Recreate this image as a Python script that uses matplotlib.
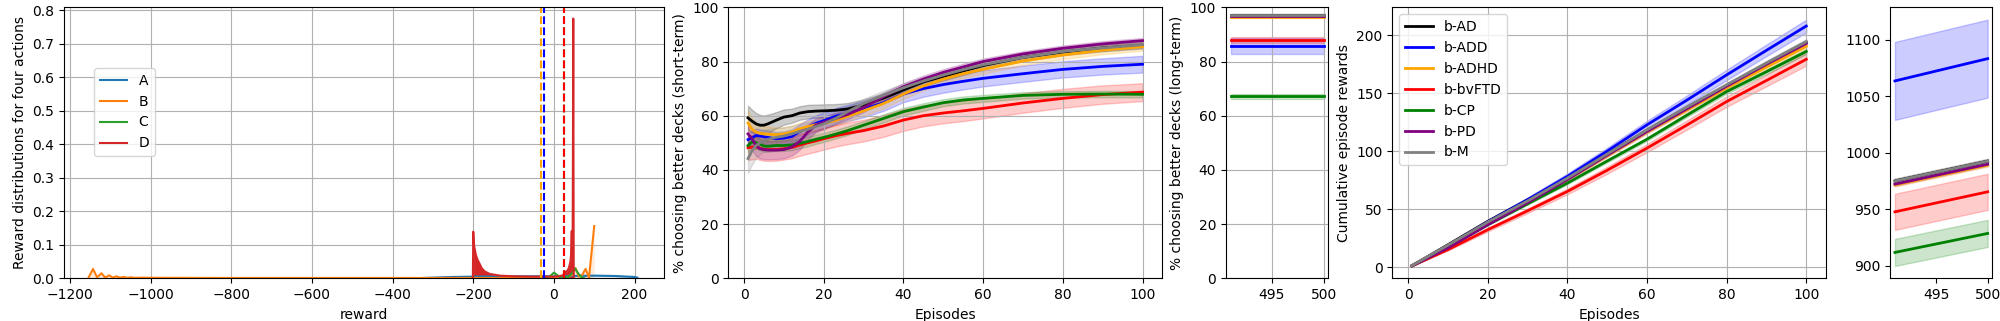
import numpy as np
import matplotlib
matplotlib.use("Agg")
import matplotlib.pyplot as plt

# ---------------- Panel 1: reward distributions ----------------
actions = ["A", "B", "C", "D"]
a_x = [-350, -300, -250, -200, -100, 0, 50, 100, 150, 200, 207]
a_y = [0.0, 0.002, 0.004, 0.005, 0.006, 0.006, 0.007, 0.008, 0.007, 0.004, 0.002]
b_x = [-1155, -1143, -1133, -1122, -1113, -1103, -1094, -1085, -1076, -1067, -1058,
       -1049, -1040, -1020, -1000, -800, -600, -400, -200, -100, -50, 0, 30, 45, 54,
       62, 70, 78.5, 87, 100]
b_y = [0.0, 0.028, 0.003, 0.015, 0.002, 0.009, 0.002, 0.006, 0.002, 0.004, 0.0015,
       0.003, 0.0015, 0.002, 0.0015, 0.001, 0.001, 0.001, 0.001, 0.001, 0.001, 0.001,
       0.002, 0.01, 0.03, 0.005, 0.01, 0.028, 0.002, 0.156]
c_x = [-30, -15, -8, 0, 8, 15, 25, 35, 45, 52, 60, 68, 75]
c_y = [0.0, 0.002, 0.008, 0.017, 0.01, 0.003, 0.002, 0.004, 0.015, 0.03, 0.015, 0.004, 0.0]
d_x = [-201, -200, -199, -197.5, -193.5, -190, -185, -179, -171, -159, -134, -100, -50,
       0, 10, 20, 25, 30, 35, 38, 41, 42.5, 43.5, 46.5, 47, 48, 49]
d_y = [0, 0.139, 0.11, 0.094, 0.07, 0.057, 0.045, 0.03, 0.02, 0.013, 0.008, 0.006, 0.005,
       0.005, 0.006, 0.008, 0.012, 0.02, 0.025, 0.035, 0.05, 0.07, 0.14, 0.14, 0.3, 0.775, 0]
mean_lines = {"orange": -32.5, "blue": -25, "green": 26, "red": 26}

# ---------------- Groups ----------------
groups = ["b-AD", "b-ADD", "b-ADHD", "b-bvFTD", "b-CP", "b-PD", "b-M"]
colors = ["black", "blue", "orange", "red", "green", "purple", "gray"]

# ---------------- Panel 2: short-term ----------------
st_x = [1, 2, 3, 4, 5, 6, 8, 10, 12, 14, 16, 18, 20, 23, 26, 30, 35, 40, 45, 50, 55, 60, 70, 80, 90, 100]
ad_st = [59.2, 58.0, 57.0, 56.5, 56.5, 57.0, 58.3, 59.5, 60.0, 61.0, 61.5, 61.7, 61.8, 62.0, 62.5, 64.0, 66.5, 69.5, 72.5, 74.5, 76.5, 78.5, 81.5, 83.5, 85.0, 86.0]
ad_st_sd = [4.5, 4.2, 4.0, 3.8, 3.6, 3.4, 3.0, 2.8, 2.6, 2.5, 2.5, 2.4, 2.4, 2.3, 2.2, 2.0, 1.8, 1.7, 1.6, 1.5, 1.5, 1.4, 1.3, 1.2, 1.2, 1.2]
add_st = [51.2, 51.8, 52.7, 52.5, 52.2, 52.0, 51.5, 51.7, 52.3, 54.2, 55.8, 57.2, 58.2, 59.8, 61.0, 62.4, 64.8, 68.0, 70.0, 71.5, 72.7, 73.8, 75.5, 77.1, 78.2, 79.0]
add_st_sd = [2.5, 2.5, 2.5, 2.5, 2.5, 2.5, 2.5, 2.5, 2.6, 2.7, 2.8, 2.9, 3.0, 3.0, 3.0, 3.0, 3.0, 3.0, 3.0, 3.0, 3.0, 3.0, 3.0, 3.0, 3.0, 3.1]
adhd_st = [57.3, 55.0, 54.0, 53.5, 53.3, 53.2, 53.0, 53.3, 54.0, 55.2, 56.0, 56.7, 57.2, 58.3, 59.8, 61.8, 64.5, 68.0, 71.0, 73.5, 75.5, 77.1, 80.2, 82.4, 84.2, 85.5]
adhd_st_sd = [4.5, 4.0, 3.6, 3.3, 3.0, 2.8, 2.6, 2.5, 2.4, 2.3, 2.2, 2.1, 2.0, 2.0, 1.9, 1.8, 1.8, 1.7, 1.7, 1.6, 1.6, 1.6, 1.5, 1.5, 1.5, 1.5]
ftd_st = [48.2, 48.4, 48.5, 48.0, 47.6, 47.5, 47.5, 47.8, 48.3, 49.2, 50.0, 50.7, 51.5, 52.6, 53.5, 54.5, 56.2, 58.4, 60.0, 61.0, 61.8, 62.7, 64.7, 66.4, 67.8, 68.7]
ftd_st_sd = [4.5, 4.5, 4.4, 4.3, 4.2, 4.2, 4.1, 4.0, 4.0, 4.0, 4.0, 4.0, 4.0, 4.0, 4.0, 4.0, 4.0, 4.0, 3.9, 3.8, 3.8, 3.7, 3.6, 3.5, 3.4, 3.3]
cp_st = [49.0, 50.3, 50.0, 49.5, 48.8, 48.7, 49.0, 49.0, 49.2, 49.8, 50.5, 51.3, 52.0, 53.2, 54.5, 56.5, 59.0, 61.5, 63.2, 64.8, 65.8, 66.4, 67.5, 67.9, 68.0, 67.9]
cp_st_sd = [2.5, 2.4, 2.3, 2.2, 2.1, 2.0, 2.0, 2.0, 1.9, 1.8, 1.8, 1.7, 1.7, 1.6, 1.6, 1.5, 1.5, 1.4, 1.4, 1.3, 1.3, 1.3, 1.2, 1.2, 1.2, 1.2]
pd_st = [53.3, 51.5, 49.0, 47.8, 47.5, 47.3, 47.3, 47.5, 48.5, 50.5, 54.0, 56.5, 57.6, 59.0, 60.5, 63.0, 67.0, 70.7, 73.5, 76.0, 78.0, 80.0, 82.8, 84.9, 86.5, 87.7]
pd_st_sd = [4.0, 4.0, 3.8, 3.6, 3.5, 3.4, 3.3, 3.2, 3.2, 3.0, 2.8, 2.5, 2.2, 2.0, 1.8, 1.6, 1.5, 1.4, 1.3, 1.2, 1.2, 1.1, 1.0, 1.0, 1.0, 1.0]
m_st = [44.2, 47.0, 49.0, 50.0, 50.8, 51.3, 52.0, 52.5, 53.3, 54.2, 55.0, 56.0, 57.0, 59.0, 61.5, 64.5, 67.5, 70.3, 72.8, 75.0, 77.0, 78.8, 81.5, 83.7, 85.0, 86.2]
m_st_sd = [5.5, 5.0, 4.6, 4.3, 4.0, 3.8, 3.5, 3.2, 3.0, 2.8, 2.6, 2.4, 2.2, 2.0, 1.9, 1.8, 1.7, 1.6, 1.5, 1.4, 1.4, 1.3, 1.3, 1.2, 1.2, 1.2]

# ---------------- Panel 3: long-term (episodes 491-500) ----------------
lt_x = [491, 500]
lt_mean = [97.0, 85.6, 96.5, 88.0, 67.2, 96.9, 97.0]
lt_sd = [0.5, 3.0, 0.5, 1.2, 0.9, 0.5, 0.5]

# ---------------- Panel 4: cumulative rewards ----------------
ct_x = [1, 10, 20, 30, 40, 50, 60, 70, 80, 90, 100]
ad_ct = [1.2, 19.2, 39.4, 58.0, 77.0, 97.5, 118.0, 137.5, 156.5, 175.5, 194.0]
add_ct = [1.2, 18.5, 39.0, 58.0, 78.2, 100.0, 122.7, 144.0, 165.8, 187.0, 208.0]
adhd_ct = [1.2, 18.5, 38.0, 56.5, 75.5, 96.0, 116.5, 135.5, 154.5, 172.5, 190.5]
ftd_ct = [1.0, 15.0, 32.2, 48.5, 65.2, 83.5, 102.6, 122.5, 142.8, 161.0, 179.3]
cp_ct = [1.0, 17.0, 36.5, 54.5, 72.4, 91.5, 110.3, 131.0, 151.4, 168.5, 186.0]
pd_ct = [1.0, 16.5, 36.5, 55.5, 75.5, 96.5, 117.0, 136.5, 156.0, 175.0, 193.0]
m_ct = [1.2, 18.8, 38.8, 57.0, 76.7, 97.5, 118.4, 138.0, 157.2, 176.0, 194.5]
wide_ct_sd = [0.1, 0.8, 1.5, 2.0, 2.5, 3.0, 3.5, 4.0, 4.5, 5.0, 5.5]
narrow_ct_sd = [0.1, 0.4, 0.6, 0.8, 1.0, 1.2, 1.4, 1.6, 1.8, 2.0, 2.2]

# ---------------- Panel 5: cumulative rewards (episodes 491-500) ----------------
lc_x = [491, 500]
lc_start = [975.0, 1063.5, 971.5, 947.7, 911.8, 972.2, 975.0]
lc_end = [992.5, 1083.2, 989.0, 965.4, 928.6, 989.8, 992.5]
lc_sd = [2.0, 34.5, 1.5, 16.0, 12.0, 1.5, 2.0]

st_series = [ad_st, add_st, adhd_st, ftd_st, cp_st, pd_st, m_st]
st_sds = [ad_st_sd, add_st_sd, adhd_st_sd, ftd_st_sd, cp_st_sd, pd_st_sd, m_st_sd]
ct_series = [ad_ct, add_ct, adhd_ct, ftd_ct, cp_ct, pd_ct, m_ct]
ct_sds = [narrow_ct_sd, wide_ct_sd, narrow_ct_sd, wide_ct_sd, narrow_ct_sd, narrow_ct_sd, narrow_ct_sd]

fig = plt.figure(figsize=(20, 3.21), dpi=100)
b, h = 0.1330, 0.8442
ax1 = fig.add_axes([0.032, b, 0.3002, h])
ax2 = fig.add_axes([0.36415, b, 0.217, h])
ax3 = fig.add_axes([0.613, b, 0.05115, h])
ax4 = fig.add_axes([0.69615, b, 0.21685, h])
ax5 = fig.add_axes([0.94515, b, 0.051, h])

# Panel 1
ax1.fill_between(a_x, np.array(a_y) - 0.003, np.array(a_y) + 0.003, color="C0", alpha=0.3, lw=0)
ax1.plot(a_x, a_y, color="C0", label="A")
ax1.fill_between(b_x, 0, b_y, color="C1", alpha=0.15, lw=0)
ax1.plot(b_x, b_y, color="C1", label="B")
ax1.plot(c_x, c_y, color="C2", label="C")
ax1.fill_between(d_x, 0, d_y, color="C3", lw=0)
ax1.plot(d_x, d_y, color="C3", label="D")
for col, xv in mean_lines.items():
    ax1.axvline(xv, color=col, ls="--", lw=1.5)
ax1.set_xlim(-1215, 274)
ax1.set_ylim(0, 0.8085)
ax1.set_xlabel("reward")
ax1.set_ylabel("Reward distributions for four actions")
ax1.grid(True)
ax1.legend(loc="upper left", bbox_to_anchor=(0.05, 0.776), borderaxespad=0)

# Panel 2
for s, sd, c, g in zip(st_series, st_sds, colors, groups):
    s = np.array(s); sd = np.array(sd)
    ax2.fill_between(st_x, s - sd, s + sd, color=c, alpha=0.2)
    ax2.plot(st_x, s, color=c, lw=2, label=g)
ax2.set_ylim(0, 100)
ax2.set_xlabel("Episodes")
ax2.set_ylabel("% choosing better decks (short-term)")
ax2.grid(True)

# Panel 3
for m, sd, c in zip(lt_mean, lt_sd, colors):
    ax3.fill_between(lt_x, [m - sd] * 2, [m + sd] * 2, color=c, alpha=0.2)
    ax3.plot(lt_x, [m] * 2, color=c, lw=2)
ax3.set_ylim(0, 100)
ax3.set_xticks([495, 500])
ax3.set_ylabel("% choosing better decks (long-term)")
ax3.grid(True)

# Panel 4
for s, sd, c, g in zip(ct_series, ct_sds, colors, groups):
    s = np.array(s); sd = np.array(sd)
    ax4.fill_between(ct_x, s - sd, s + sd, color=c, alpha=0.2)
    ax4.plot(ct_x, s, color=c, lw=2, label=g)
ax4.set_yticks([0, 50, 100, 150, 200])
ax4.set_xlabel("Episodes")
ax4.set_ylabel("Cumulative episode rewards")
ax4.grid(True)
ax4.legend(loc="upper left")

# Panel 5
for s0, s1, sd, c in zip(lc_start, lc_end, lc_sd, colors):
    ax5.fill_between(lc_x, [s0 - sd, s1 - sd], [s0 + sd, s1 + sd], color=c, alpha=0.2)
    ax5.plot(lc_x, [s0, s1], color=c, lw=2)
ax5.set_xticks([495, 500])
ax5.set_yticks([900, 950, 1000, 1050, 1100])

fig.savefig("out.png", dpi=100)
